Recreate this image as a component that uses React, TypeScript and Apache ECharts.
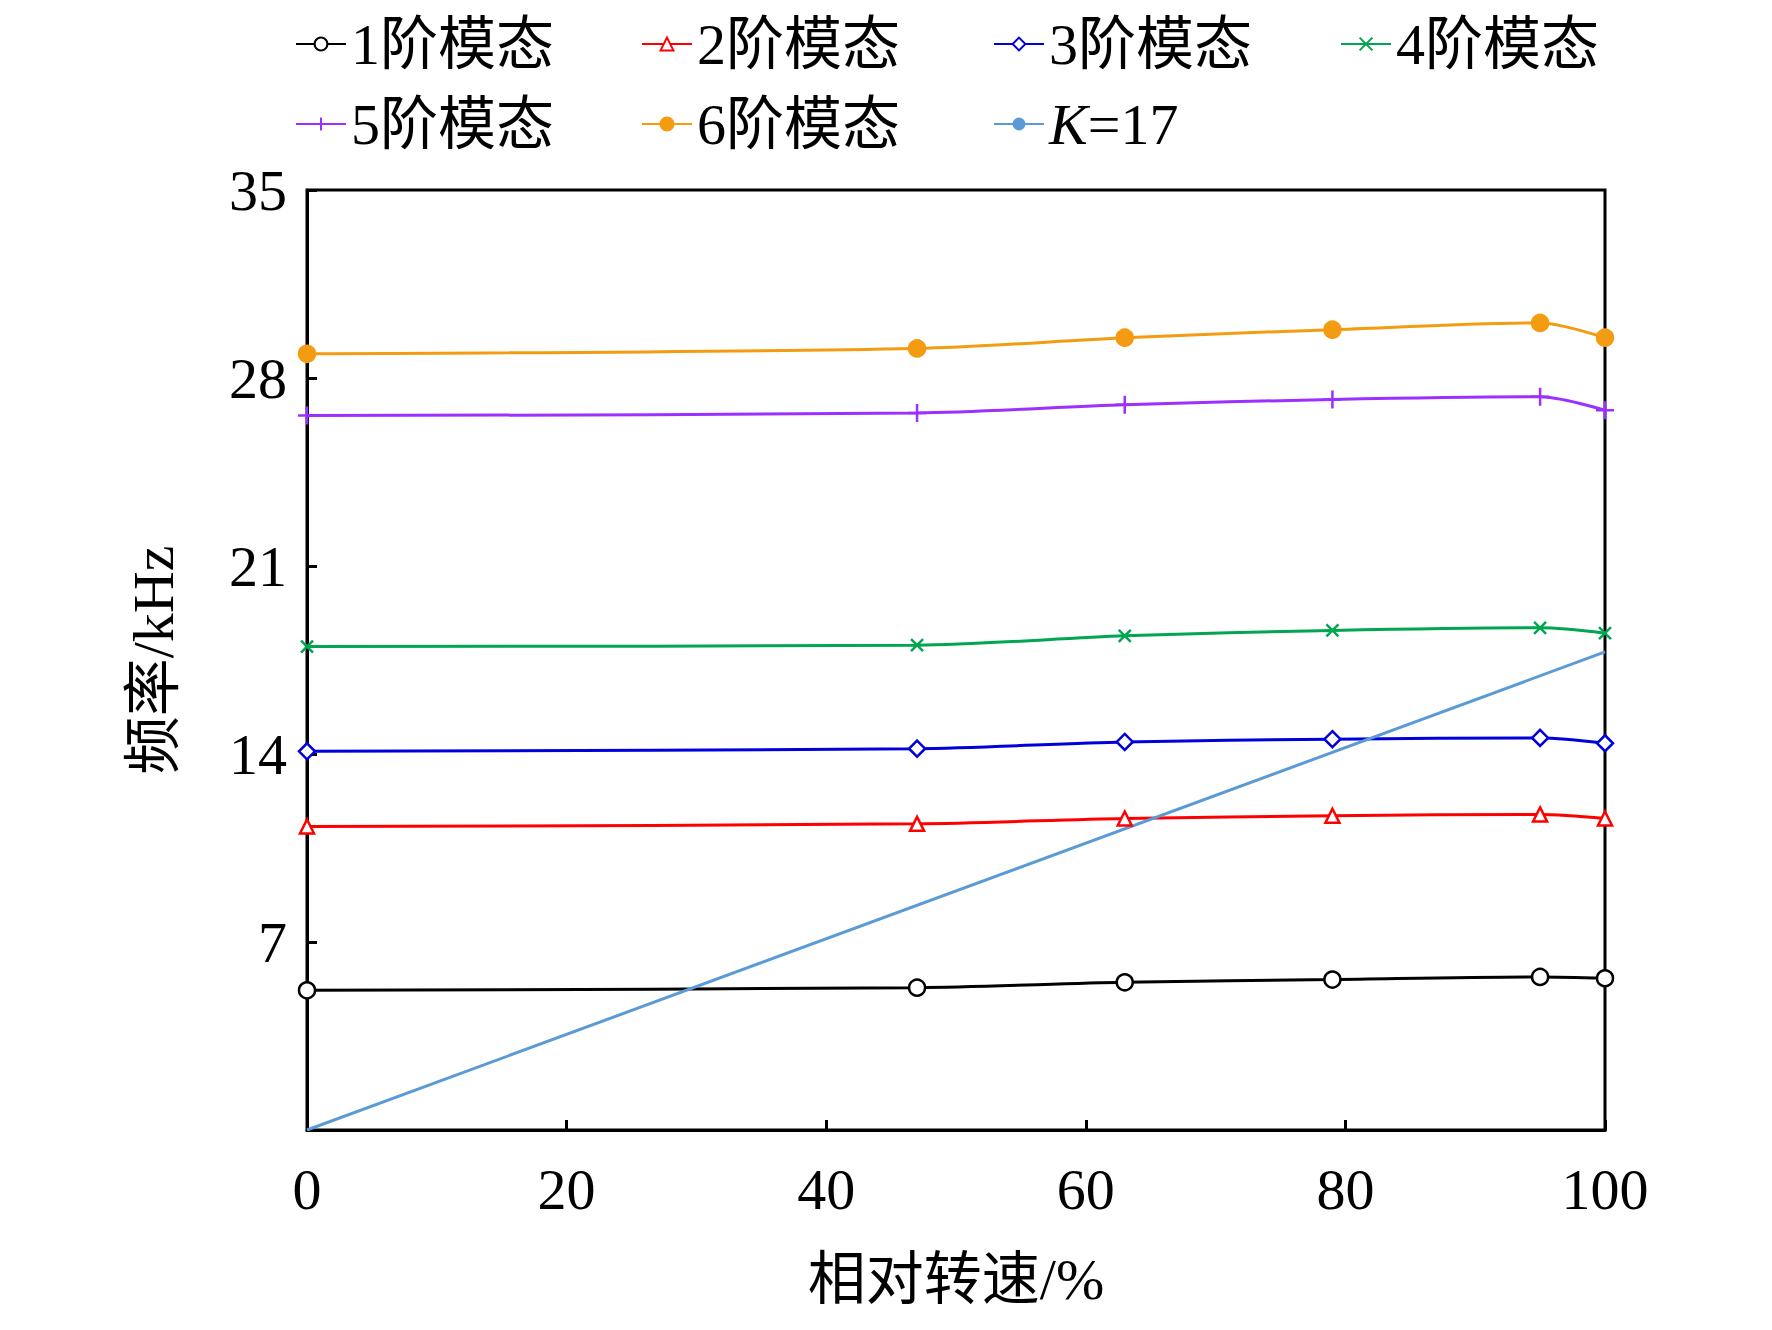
import React, { useEffect, useRef } from 'react'
import * as echarts from 'echarts'

const speeds = [0, 47, 63, 79, 95, 100]
const mode1 = [5.2, 5.3, 5.5, 5.6, 5.7, 5.65]
const mode2 = [11.3, 11.4, 11.6, 11.7, 11.75, 11.6]
const mode3 = [14.1, 14.2, 14.45, 14.55, 14.6, 14.4]
const mode4 = [18.0, 18.05, 18.4, 18.6, 18.7, 18.5]
const mode5 = [26.6, 26.7, 27.0, 27.2, 27.3, 26.8]
const mode6 = [28.9, 29.1, 29.5, 29.8, 30.05, 29.5]
const kLineX = [0, 100]
const kLineY = [0, 17.8]
const yTicks = [0, 7, 14, 21, 28, 35]

const FONT = '"Liberation Serif", "Noto Sans CJK SC", serif'
const crossPath = 'path://M0,0L10,10M10,0L0,10'
const plusPath = 'path://M5,0L5,10M0,5L10,5'

function App() {
  const ref = useRef<HTMLDivElement>(null)
  useEffect(() => {
    document.body.style.margin = '0'
    const chart = echarts.init(ref.current as HTMLDivElement, undefined, { renderer: 'svg' })
    const pts = (ys: number[]) => speeds.map((x, i) => [x, ys[i]])
    const mk = (name: string, color: string, ys: number[], symbol: string, size: number, filled = false) => ({
      name,
      type: 'line',
      data: pts(ys),
      smooth: 0.3,
      symbol,
      symbolSize: size,
      lineStyle: { color, width: 3 },
      itemStyle: { color: filled ? color : '#ffffff', borderColor: color, borderWidth: 2.5 },
      color,
    })
    const series: any[] = [
      mk('1阶模态', '#000000', mode1, 'circle', 16),
      mk('2阶模态', '#ff0000', mode2, 'triangle', 14),
      mk('3阶模态', '#0000dd', mode3, 'diamond', 16),
      mk('4阶模态', '#00a651', mode4, crossPath, 12),
      mk('5阶模态', '#9b30ff', mode5, plusPath, 18),
      mk('6阶模态', '#f39c12', mode6, 'circle', 16, true),
      {
        name: 'K=17',
        type: 'line',
        data: kLineX.map((x, i) => [x, kLineY[i]]),
        symbol: 'circle',
        symbolSize: 12,
        showSymbol: false,
        lineStyle: { color: '#5b9bd5', width: 3 },
        itemStyle: { color: '#5b9bd5' },
        color: '#5b9bd5',
      },
    ]
    const legendPos = [
      [290, 10], [636, 10], [988, 10], [1335, 10],
      [290, 90], [636, 90], [988, 90],
    ]
    const legends = series.map((s, i) => ({
      data: [s.name],
      left: legendPos[i][0],
      top: legendPos[i][1],
      itemWidth: 50,
      itemHeight: 16,
      textStyle: {
        fontFamily: FONT, fontSize: 58, color: '#000',
        rich: { i: { fontFamily: FONT, fontSize: 58, fontStyle: 'italic' } },
      },
      formatter: (n: string) => (n === 'K=17' ? '{i|K}=17' : n),
    }))
    chart.setOption({
      animation: false,
      legend: legends,
      grid: { left: 307, right: 167, top: 190, bottom: 200, show: true, borderColor: '#000', borderWidth: 3 },
      xAxis: {
        type: 'value', min: 0, max: 100, interval: 20,
        name: '相对转速/%', nameLocation: 'middle', nameGap: 120,
        nameTextStyle: { fontFamily: FONT, fontSize: 58, color: '#000' },
        axisLine: { lineStyle: { color: '#000', width: 3 } },
        axisTick: { inside: true, length: 10, lineStyle: { color: '#000', width: 3 } },
        axisLabel: { fontFamily: FONT, fontSize: 58, color: '#000', margin: 30 },
        splitLine: { show: false },
      },
      yAxis: {
        type: 'value', min: 0, max: 35, interval: 7,
        name: '频率/kHz', nameLocation: 'middle', nameGap: 125, nameRotate: 90,
        nameTextStyle: { fontFamily: FONT, fontSize: 58, color: '#000' },
        axisLine: { lineStyle: { color: '#000', width: 3 } },
        axisTick: { inside: true, length: 10, lineStyle: { color: '#000', width: 3 } },
        axisLabel: {
          fontFamily: FONT, fontSize: 58, color: '#000', margin: 20,
          formatter: (v: number) => (v === 0 || !yTicks.includes(v) ? '' : String(v)),
        },
        splitLine: { show: false },
      },
      series,
    })
    return () => chart.dispose()
  }, [])
  return <div ref={ref} style={{ width: 1772, height: 1330 }} />
}

export default App
